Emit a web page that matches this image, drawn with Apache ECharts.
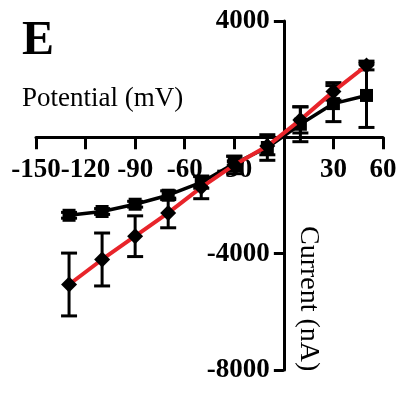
<!DOCTYPE html>
<html>
<head>
<meta charset="utf-8">
<script src="https://cdn.jsdelivr.net/npm/echarts@6/dist/echarts.min.js"></script>
<style>
  html, body { margin: 0; padding: 0; background: #fff; }
  #chart { width: 401px; height: 394px; }
</style>
</head>
<body>
<div id="chart"></div>
<script>
// Membrane potential steps (mV)
const potentials = [-130, -110, -90, -70, -50, -30, -10, 10, 30, 50];
// Current, square markers (nA) and its SEM
const currentSquares = [-2680, -2550, -2300, -1990, -1550, -900, -350, 450, 1160, 1440];
const errSquares = [100, 100, 100, 150, 200, 250, 440, 600, 620, 1100];
// Current, diamond markers on red line (nA) and its SEM
const currentDiamonds = [-5060, -4200, -3400, -2600, -1720, -950, -300, 600, 1580, 2470];
const errDiamonds = [1080, 910, 700, 510, 390, 300, 300, 450, 300, 150];
// Axis ticks
const xTicks = [-150, -120, -90, -60, -30, 0, 30, 60];
const yTicks = [-8000, -4000, 0, 4000];

const serif = '"Liberation Serif", "DejaVu Serif", serif';

// Plot area
const W = 401, H = 394;
const G = { left: 36, right: 18, top: 21, bottom: 24 };
const gw = W - G.left - G.right, gh = H - G.top - G.bottom;
const xMin = xTicks[0], xMax = xTicks[xTicks.length - 1];
const yMin = yTicks[0], yMax = yTicks[yTicks.length - 1];
// Shift the axes inward so they cross at the origin, carrying ticks and labels along
const xAxisOffset = -gh * (0 - yMin) / (yMax - yMin);
const yAxisOffset = -gw * (0 - xMin) / (xMax - xMin);

function pairs(xs, ys) { return xs.map((x, i) => [x, ys[i]]); }
function errData(xs, ys, es) { return xs.map((x, i) => [x, ys[i] - es[i], ys[i] + es[i]]); }

function errorBar(params, api) {
  const x = api.value(0);
  const lo = api.coord([x, api.value(1)]);
  const hi = api.coord([x, api.value(2)]);
  const half = 8;
  const style = { stroke: '#000', lineWidth: 3 };
  return {
    type: 'group',
    children: [
      { type: 'line', shape: { x1: lo[0], y1: lo[1], x2: hi[0], y2: hi[1] }, style },
      { type: 'line', shape: { x1: lo[0] - half, y1: lo[1], x2: lo[0] + half, y2: lo[1] }, style },
      { type: 'line', shape: { x1: hi[0] - half, y1: hi[1], x2: hi[0] + half, y2: hi[1] }, style }
    ]
  };
}

const chart = echarts.init(document.getElementById('chart'), null, { renderer: 'canvas' });
chart.setOption({
  animation: false,
  backgroundColor: '#fff',
  grid: { left: G.left, right: G.right, top: G.top, bottom: G.bottom, containLabel: false, outerBoundsMode: 'none' },
  xAxis: {
    type: 'value', position: 'bottom', offset: xAxisOffset,
    min: xMin, max: xMax, interval: 30,
    axisLine: { onZero: false, lineStyle: { color: '#000', width: 3 } },
    axisTick: { show: true, inside: false, length: 12, lineStyle: { color: '#000', width: 3 } },
    axisLabel: {
      margin: 19, color: '#000', fontFamily: serif, fontWeight: 'bold', fontSize: 27,
      hideOverlap: false,
      formatter: v => (v === 0 ? '' : String(v))
    },
    splitLine: { show: false }
  },
  yAxis: {
    type: 'value', position: 'left', offset: yAxisOffset,
    min: yMin, max: yMax, interval: 4000,
    axisLine: { onZero: false, lineStyle: { color: '#000', width: 3 } },
    axisTick: { show: true, inside: false, length: 10, lineStyle: { color: '#000', width: 3 } },
    axisLabel: {
      margin: 14, color: '#000', fontFamily: serif, fontWeight: 'bold', fontSize: 27,
      formatter: v => (v === 0 ? '' : String(v))
    },
    splitLine: { show: false }
  },
  graphic: [
    { type: 'text', left: 22, top: 18, style: { text: 'E', font: 'bold 48px ' + serif, fill: '#000' } },
    { type: 'text', left: 22, top: 85, style: { text: 'Potential (mV)', font: '27px ' + serif, fill: '#000' } },
    { type: 'text', x: 294, y: 226, rotation: -Math.PI / 2,
      style: { text: 'Current (nA)', font: '28px ' + serif, fill: '#000', textAlign: 'left', textVerticalAlign: 'bottom' } }
  ],
  series: [
    {
      type: 'custom', renderItem: errorBar, data: errData(potentials, currentSquares, errSquares),
      z: 2, silent: true
    },
    {
      type: 'line', data: pairs(potentials, currentSquares),
      symbol: 'rect', symbolSize: 13,
      lineStyle: { color: '#000', width: 3.5 },
      itemStyle: { color: '#000' }, z: 3
    },
    {
      type: 'custom', renderItem: errorBar, data: errData(potentials, currentDiamonds, errDiamonds),
      z: 4, silent: true
    },
    {
      type: 'line', data: pairs(potentials, currentDiamonds),
      symbol: 'diamond', symbolSize: 16,
      lineStyle: { color: '#e8242a', width: 4 },
      itemStyle: { color: '#000' }, z: 5
    }
  ]
});
</script>
</body>
</html>
